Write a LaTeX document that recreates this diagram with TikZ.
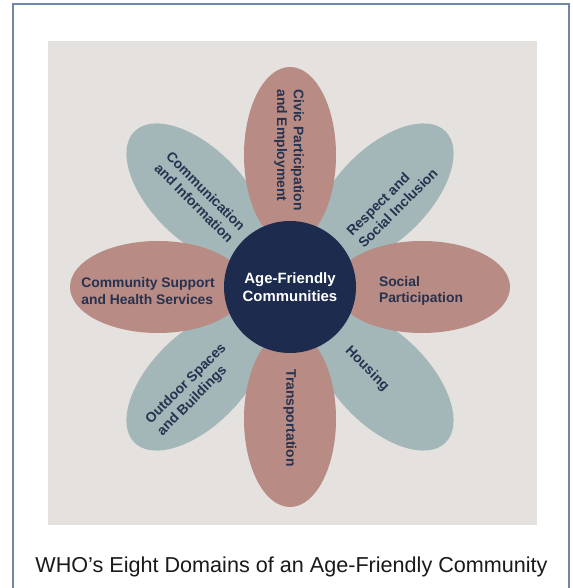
\documentclass[tikz,border=0pt]{standalone}
\usepackage{fontspec}
\setmainfont{Liberation Sans}
\usetikzlibrary{shapes.geometric,calc}
\definecolor{bggray}{HTML}{E4E1DE}
\definecolor{rosepetal}{HTML}{B88B84}
\definecolor{tealpetal}{HTML}{A3B6B8}
\definecolor{navy}{HTML}{1D2C4E}
\definecolor{petaltext}{HTML}{27324F}
\definecolor{framecol}{HTML}{7087AA}
\definecolor{captext}{HTML}{1A1A1A}
\tikzset{
  petal/.style={ellipse, inner sep=0pt, minimum width=132pt, minimum height=69pt},
  rosep/.style={petal, fill=rosepetal},
  tealp/.style={petal, fill=tealpetal},
  plabel/.style={text=petaltext, font=\fontsize{10.4}{12.5}\selectfont\bfseries, align=left, inner sep=0pt},
  hub/.style={circle, fill=navy, inner sep=0pt, minimum size=99pt, text=white,
    font=\fontsize{11.2}{13.5}\selectfont\bfseries, align=center},
  caption/.style={text=captext, font=\fontsize{16.2}{19}\selectfont, inner sep=0pt}
}
\begin{document}
\begin{tikzpicture}[x=0.75pt,y=0.75pt]
\useasboundingbox (0,0) rectangle (572,588);
\fill[white] (0,0) rectangle (572,588);
\draw[framecol, line width=0.8pt] (13,-5) -- (13,584) -- (569,584) -- (569,-5);
\fill[bggray] (48,63) rectangle (537,547);
\coordinate (C) at (290,301);
% teal petals first
\node[tealp, rotate=45]   (pRespect) at ($(C)+(45:132)$) {};
\node[tealp, rotate=-45]  (pHousing) at ($(C)+(-45:132)$) {};
\node[tealp, rotate=-135] (pOutdoor) at ($(C)+(-135:132)$) {};
\node[tealp, rotate=135]  (pComm)    at ($(C)+(135:132)$) {};
% rose petals on top
\node[rosep, rotate=90]   (pCivic)   at ($(C)+(90:132)$) {};
\node[rosep, rotate=0]    (pSocial)  at ($(C)+(0:132)$) {};
\node[rosep, rotate=-90]  (pTrans)   at ($(C)+(-90:132)$) {};
\node[rosep, rotate=180]  (pSupport) at ($(C)+(180:132)$) {};
% hub
\node[hub] (hub) at (C) {Age-Friendly\\Communities};
% labels
\node[plabel, rotate=-90] (tCivic) at (289,438) {Civic Participation\\and Employment};
\node[plabel, rotate=45]  (tRespect) at (392,386) {Respect and\\Social Inclusion};
\node[plabel] (tSocial) at (421,297) {Social\\Participation};
\node[plabel, rotate=-45] (tHousing) at (367,219) {Housing};
\node[plabel, rotate=-90] (tTrans) at (290,170) {Transportation};
\node[plabel, rotate=45]  (tOutdoor) at (192,198) {Outdoor Spaces\\and Buildings};
\node[plabel] (tSupport) at (148,297) {Community Support\\and Health Services};
\node[plabel, rotate=-45] (tComm) at (200,391) {Communication\\and Information};
% caption
\node[caption, anchor=base] (cap) at (291.5,15) {WHO’s Eight Domains of an Age-Friendly Community};
\end{tikzpicture}
\end{document}
